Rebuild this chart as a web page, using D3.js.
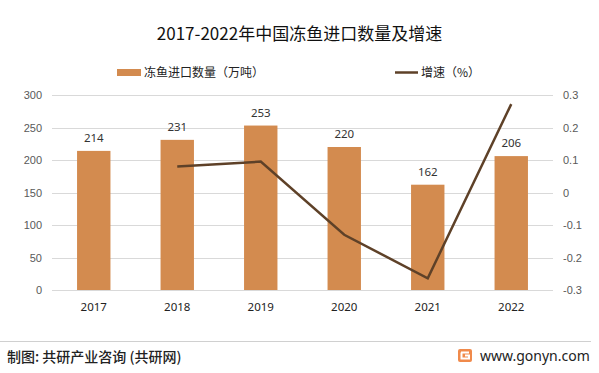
<!DOCTYPE html>
<html>
<head>
<meta charset="utf-8">
<script src="https://cdn.jsdelivr.net/npm/d3@7"></script>
<style>
  body { margin: 0; background: #fff; }
  svg { display: block; font-family: "Noto Sans CJK SC", "Noto Sans", sans-serif; }
</style>
</head>
<body>
<div id="app"></div>
<script>
const years = ['2017', '2018', '2019', '2020', '2021', '2022'];
const volume = [214, 231, 253, 220, 162, 206];
const growth = [null, 0.08, 0.095, -0.13, -0.264, 0.272];
const leftTicks = [0, 50, 100, 150, 200, 250, 300];
const rightTicks = [-0.3, -0.2, -0.1, 0, 0.1, 0.2, 0.3];

const width = 599;
const height = 373;
const margin = { top: 95, right: 46, bottom: 83, left: 52 };

const svg = d3
  .select('#app')
  .append('svg')
  .attr('width', width)
  .attr('height', height);

const x = d3
  .scaleBand()
  .domain(years)
  .range([margin.left, width - margin.right])
  .paddingInner(0.6)
  .paddingOuter(0.3);

const y = d3
  .scaleLinear()
  .domain([0, 300])
  .range([height - margin.bottom, margin.top]);

const y2 = d3
  .scaleLinear()
  .domain([-0.3, 0.3])
  .range([height - margin.bottom, margin.top]);

// gridlines
svg
  .append('g')
  .selectAll('line')
  .data(leftTicks)
  .enter()
  .append('line')
  .attr('x1', margin.left)
  .attr('x2', width - margin.right)
  .attr('y1', (d) => Math.round(y(d)) + 0.5)
  .attr('y2', (d) => Math.round(y(d)) + 0.5)
  .attr('stroke', '#d9d9d9');

// left axis
const yAxis = svg
  .append('g')
  .attr('transform', `translate(${margin.left - 10},0)`)
  .call(d3.axisLeft(y).tickValues(leftTicks).tickSize(0).tickPadding(0));
yAxis.select('.domain').remove();
yAxis.selectAll('text').attr('fill', '#595959').attr('font-size', 11).attr('font-family', 'Liberation Sans, Arial, sans-serif');

// right axis
const y2Axis = svg
  .append('g')
  .attr('transform', `translate(${width - margin.right + 10},0)`)
  .call(
    d3
      .axisRight(y2)
      .tickValues(rightTicks)
      .tickSize(0)
      .tickPadding(0)
      .tickFormat((d) => (d === 0 ? '0' : d.toFixed(1))),
  );
y2Axis.select('.domain').remove();
y2Axis.selectAll('text').attr('fill', '#595959').attr('font-size', 11).attr('font-family', 'Liberation Sans, Arial, sans-serif');

// x axis labels
const xAxis = svg
  .append('g')
  .attr('transform', `translate(0,${height - margin.bottom + 10})`)
  .call(d3.axisBottom(x).tickSize(0).tickPadding(3));
xAxis.select('.domain').remove();
xAxis.selectAll('text').attr('fill', '#222').attr('font-size', 11.5).attr('font-family', '"Noto Sans", sans-serif');

// bars
svg
  .append('g')
  .selectAll('rect')
  .data(volume)
  .enter()
  .append('rect')
  .attr('x', (d, i) => x(years[i]))
  .attr('y', (d) => y(d))
  .attr('width', x.bandwidth())
  .attr('height', (d) => y(0) - y(d))
  .attr('fill', '#d38b4f');

// bar labels
svg
  .append('g')
  .selectAll('text')
  .data(volume)
  .enter()
  .append('text')
  .attr('x', (d, i) => x(years[i]) + x.bandwidth() / 2)
  .attr('y', (d) => y(d) - 9)
  .attr('text-anchor', 'middle')
  .attr('font-size', 11.5)
  .attr('font-family', '"Noto Sans", sans-serif')
  .attr('fill', '#333')
  .text((d) => d);

// growth line
const line = d3
  .line()
  .defined((d) => d !== null)
  .x((d, i) => x(years[i]) + x.bandwidth() / 2)
  .y((d) => y2(d));

svg
  .append('path')
  .datum(growth)
  .attr('d', line)
  .attr('fill', 'none')
  .attr('stroke', '#5e4128')
  .attr('stroke-width', 2.5);

// title
svg
  .append('text')
  .attr('x', width / 2)
  .attr('y', 40)
  .attr('text-anchor', 'middle')
  .attr('font-size', 17)
  .attr('fill', '#111')
  .text('2017-2022年中国冻鱼进口数量及增速');

// legend
const legend = svg.append('g').attr('font-size', 12).attr('fill', '#222');
legend.append('rect').attr('x', 117).attr('y', 69).attr('width', 24).attr('height', 7).attr('fill', '#d38b4f');
legend.append('text').attr('x', 144).attr('y', 77).text('冻鱼进口数量（万吨）');
legend.append('line').attr('x1', 395).attr('x2', 418).attr('y1', 72.5).attr('y2', 72.5).attr('stroke', '#5e4128').attr('stroke-width', 2.5);
legend.append('text').attr('x', 421).attr('y', 77).text('增速（%）');

// footer
svg
  .append('line')
  .attr('x1', 0)
  .attr('x2', 591)
  .attr('y1', 341.5)
  .attr('y2', 341.5)
  .attr('stroke', '#d0d0d0');

svg
  .append('text')
  .attr('x', 7)
  .attr('y', 362)
  .attr('font-size', 14)
  .attr('font-weight', 500)
  .attr('fill', '#222')
  .text('制图: 共研产业咨询 (共研网)');

const logo = svg.append('g').attr('transform', 'translate(458,349)');
logo.append('rect').attr('width', 14).attr('height', 13).attr('rx', 2).attr('fill', '#f08a4b');
logo.append('path').attr('d', 'M3,3.5 H11 M3.5,3.5 V9.5 H11 V6.5 H7').attr('fill', 'none').attr('stroke', '#fff').attr('stroke-width', 2);

svg
  .append('text')
  .attr('x', 480)
  .attr('y', 361)
  .attr('font-size', 14)
  .attr('fill', '#222')
  .attr('font-family', '"Noto Sans", sans-serif')
  .text('www.gonyn.com');
</script>
</body>
</html>
